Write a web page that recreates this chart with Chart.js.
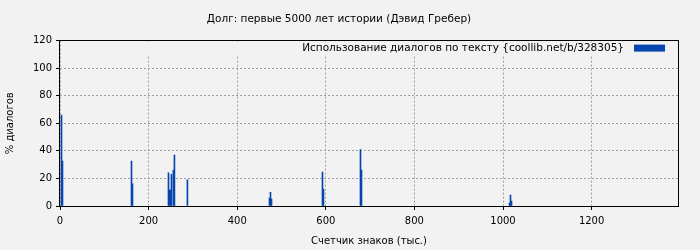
<!DOCTYPE html>
<html>
<head>
<meta charset="utf-8">
<script src="https://cdn.jsdelivr.net/npm/chart.js@4/dist/chart.umd.min.js"></script>
<style>
  html, body { margin: 0; padding: 0; background: #f2f2f2; }
  #wrap { width: 700px; height: 250px; }
</style>
</head>
<body>
<div id="wrap"><canvas id="c" width="700" height="250"></canvas></div>
<script>
const chartTitle = 'Долг: первые 5000 лет истории (Дэвид Гребер)';
const seriesLabel = 'Использование диалогов по тексту {coollib.net/b/328305}';
const xTitle = 'Счетчик знаков (тыс.)';
const yTitle = '% диалогов';
const xPositions = [3.4, 5.6, 161.4, 163.6, 244.9, 247.1, 249.4, 251.6, 256.0, 258.3, 287.6, 472.9, 475.1, 477.4, 592.5, 594.7, 678.3, 680.5, 1014.7, 1016.9, 1019.2];
const dialogPercent = [66, 32.5, 32.5, 16, 24, 11.5, 11.5, 23, 26, 37, 19, 5.8, 10, 5, 24.6, 12.3, 41, 26, 2.2, 8, 3.6];
const xTicks = [0, 200, 400, 600, 800, 1000, 1200];
const yTicks = [0, 20, 40, 60, 80, 100, 120];
const xMax = 1395;

const FONT = 'DejaVu Sans';
const points = xPositions.map((x, i) => ({ x: x, y: dialogPercent[i] }));

const bgPlugin = {
  id: 'bg',
  beforeDraw(chart) {
    const ctx = chart.ctx;
    ctx.save();
    ctx.fillStyle = '#f2f2f2';
    ctx.fillRect(0, 0, chart.width, chart.height);
    ctx.restore();
  }
};

const legendPlugin = {
  id: 'inLegend',
  beforeDatasetsDraw(chart) {
    const ctx = chart.ctx;
    const a = chart.chartArea;
    ctx.save();
    ctx.fillStyle = '#f2f2f2';
    ctx.fillRect(a.left + 1, a.top + 1, a.right - a.left - 2, 13);
    const boxRight = a.right - 13;
    const boxW = 31, boxH = 7;
    ctx.fillStyle = '#0645ad';
    ctx.fillRect(boxRight - boxW, a.top + 4, boxW, boxH);
    ctx.fillStyle = '#000';
    ctx.font = '10.5px "' + FONT + '"';
    ctx.textAlign = 'right';
    ctx.textBaseline = 'middle';
    ctx.fillText(chart.data.datasets[0].label, boxRight - boxW - 10, a.top + 7.5);
    ctx.restore();
  },
  afterDraw(chart) {
    const ctx = chart.ctx;
    const a = chart.chartArea;
    ctx.save();
    ctx.strokeStyle = '#000';
    ctx.lineWidth = 1;
    ctx.strokeRect(Math.round(a.left) - 0.5, Math.round(a.top) - 0.5, Math.round(a.right - a.left) + 1, Math.round(a.bottom - a.top) + 1);
    ctx.restore();
  }
};

new Chart(document.getElementById('c'), {
  type: 'bar',
  data: {
    datasets: [{
      label: seriesLabel,
      data: points,
      backgroundColor: '#0645ad',
      borderWidth: 0,
      barThickness: 1,
      grouped: false
    }]
  },
  options: {
    responsive: false,
    animation: false,
    devicePixelRatio: 1,
    layout: { padding: { left: 0, right: 22, top: 0, bottom: 0 } },
    plugins: {
      legend: { display: false },
      tooltip: { enabled: false },
      title: {
        display: true,
        text: chartTitle,
        color: '#000',
        font: { family: FONT, size: 10.5, weight: 'normal' },
        padding: { top: 13, bottom: 15 }
      }
    },
    scales: {
      x: {
        type: 'linear',
        offset: false,
        min: 0,
        max: xMax,
        afterBuildTicks(scale) { scale.ticks = xTicks.map(v => ({ value: v })); },
        afterFit(scale) { scale.height = 44; },
        ticks: { color: '#000', font: { family: FONT, size: 10 }, padding: 5, maxRotation: 0, callback: v => String(v) },
        grid: { offset: false, color: '#a0a0a0', lineWidth: 1, drawTicks: true, tickLength: 4, tickColor: '#000', tickBorderDash: [] },
        border: { display: false, color: '#000', width: 1, dash: [2, 2] },
        title: { display: true, text: xTitle, color: '#000', font: { family: FONT, size: 10 }, padding: { top: 4, bottom: 3 } }
      },
      y: {
        type: 'linear',
        min: 0,
        max: 120,
        afterBuildTicks(scale) { scale.ticks = yTicks.map(v => ({ value: v })); },
        afterFit(scale) { scale.width = 60; },
        ticks: { color: '#000', font: { family: FONT, size: 10 }, padding: 4, callback: v => String(v) },
        grid: { color: '#a0a0a0', lineWidth: 1, drawTicks: true, tickLength: 4, tickColor: '#000', tickBorderDash: [] },
        border: { display: false, color: '#000', width: 1, dash: [2, 2] },
        title: { display: true, text: yTitle, color: '#000', font: { family: FONT, size: 10 }, padding: { top: 4, bottom: 4 } }
      }
    }
  },
  plugins: [bgPlugin, legendPlugin]
});
</script>
</body>
</html>
